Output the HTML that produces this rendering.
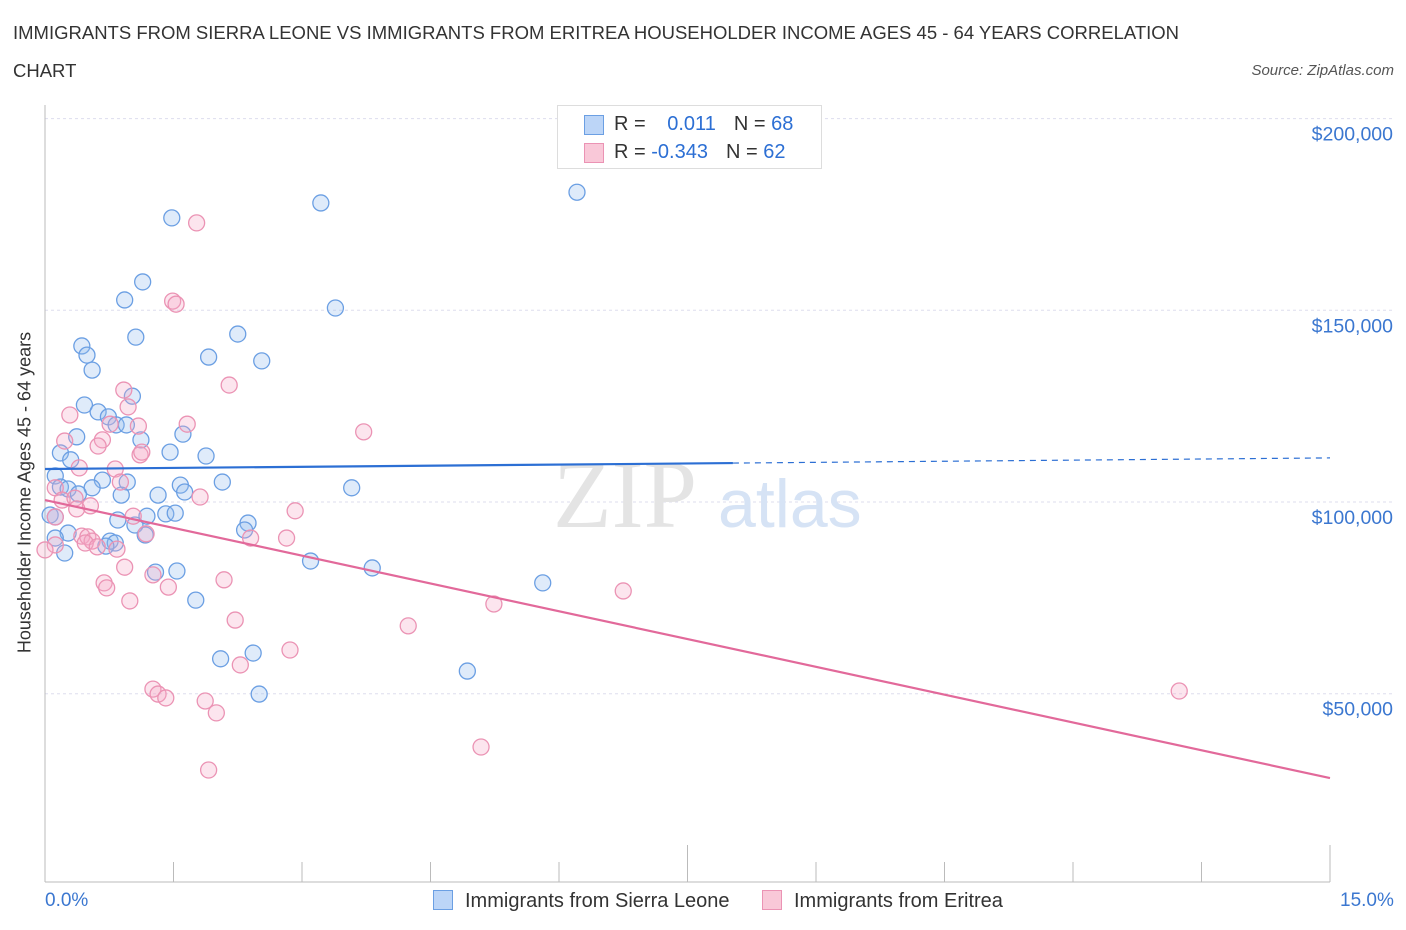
<!DOCTYPE html>
<html><head><meta charset="utf-8"><style>
body{margin:0;background:#fff;font-family:"Liberation Sans",sans-serif;}
#wrap{position:relative;width:1406px;height:930px;overflow:hidden}
.t{position:absolute;white-space:nowrap}
</style></head><body><div id="wrap">
<div class="t" style="left:13px;top:14px;font-size:18.5px;color:#333;line-height:38px;width:1220px;white-space:normal">IMMIGRANTS FROM SIERRA LEONE VS IMMIGRANTS FROM ERITREA HOUSEHOLDER INCOME AGES 45 - 64 YEARS CORRELATION CHART</div>
<div class="t" style="right:12px;top:62px;font-size:15px;color:#555;font-style:italic">Source: ZipAtlas.com</div>
<svg id="svg" width="1406" height="930" style="position:absolute;left:0;top:0"></svg>
</div>
<script>
const blueX=[6.21,3.22,1.48,1.14,0.93,3.39,2.25,1.06,0.43,0.49,1.91,2.53,0.55,1.02,0.46,0.62,0.74,0.83,0.95,1.61,0.37,1.12,0.18,1.46,1.88,0.30,0.12,2.07,0.67,0.96,1.58,0.18,0.27,0.55,3.58,1.63,0.39,0.89,1.32,0.06,0.12,1.19,1.41,1.52,0.85,2.37,1.05,2.33,0.27,1.17,0.12,0.76,0.82,0.71,0.23,3.10,3.82,1.54,1.29,5.81,1.76,2.43,2.05,4.93,2.50];
const blueY=[180.8,178.0,174.1,157.4,152.7,150.6,143.8,143.0,140.7,138.3,137.8,136.8,134.4,127.6,125.3,123.5,122.2,120.1,120.1,117.7,117.0,116.2,112.8,113.0,112.0,111.0,106.8,105.2,105.7,105.2,104.4,103.9,103.4,103.7,103.7,102.6,102.1,101.8,101.8,96.6,96.1,96.3,96.9,97.1,95.3,94.5,94.0,92.7,91.9,91.4,90.6,89.8,89.3,88.5,86.7,84.6,82.8,82.0,81.7,78.9,74.4,60.6,59.1,55.9,49.9];
const pinkX=[1.77,1.49,1.53,2.15,0.92,0.97,0.29,1.66,1.09,0.76,3.72,0.23,0.67,0.62,1.11,1.13,0.40,0.82,0.88,0.12,1.81,0.20,0.35,0.53,0.37,2.92,0.12,1.03,1.18,0.43,0.50,2.40,2.82,0.55,0.12,0.47,0.61,0.84,0.0,0.93,1.26,2.09,0.69,0.72,1.44,6.75,5.24,0.99,2.22,4.24,2.86,2.28,1.26,1.32,13.24,1.41,1.87,2.00,5.09,1.91];
const pinkY=[172.8,152.4,151.6,130.5,129.2,124.8,122.7,120.3,119.8,120.3,118.3,115.9,116.2,114.6,112.3,113.0,108.9,108.6,105.2,103.7,101.3,100.5,101.0,99.0,98.2,97.7,96.1,96.3,91.7,91.1,90.9,90.6,90.6,89.8,88.8,89.3,88.3,87.7,87.5,83.0,81.0,79.7,78.9,77.6,77.8,76.8,73.4,74.2,69.2,67.7,61.4,57.5,51.2,49.9,50.7,48.9,48.1,45.0,36.1,30.1];
const blueTrend=[108.6,111.5]; const blueSolidEnd=8.03;
const pinkTrend=[100.5,28.0];
const yTicks=[50,100,150,200];
const yTickLabels=["$50,000","$100,000","$150,000","$200,000"];
const X=v=>45+v/15*1285, Y=v=>502-(v-100)*191.7/50;
const s=document.getElementById('svg'),NS='http://www.w3.org/2000/svg';
function mk(tag,at){const e=document.createElementNS(NS,tag);for(const k in at)e.setAttribute(k,at[k]);s.appendChild(e);return e;}
yTicks.forEach((t,i)=>{
 const g=mk('line',{x1:45,x2:1395,y1:Y(t),y2:Y(t),stroke:'#dde',"stroke-dasharray":'3,3'});
 
 
 const l=mk('text',{x:1393,y:Y(t)+22,"text-anchor":'end',fill:'#3b77d0',"font-size":19.5});l.textContent=yTickLabels[i];
 
 
});
mk('line',{x1:45,x2:45,y1:105,y2:882,stroke:'#bbb'});
mk('line',{x1:45,x2:1330,y1:882,y2:882,stroke:'#bbb'});
for(let i=0;i<=10;i++){const x=45+i*128.5;const tk=mk('line',{x1:x,x2:x,y1:i%5==0?845:862,y2:882,stroke:'#bbb'});
 
 }
const wm=mk('text',{x:553,y:527,"font-size":96,fill:'#e4e4e4',"font-family":'Liberation Serif'});wm.textContent='ZIP';
const wm2=mk('text',{x:718,y:527,"font-size":68,fill:'#d6e3f5'});wm2.textContent='atlas';
function dot(x,y,st,fi,n){const c=mk('circle',{cx:X(x),cy:Y(y),r:8,fill:fi,stroke:st,"stroke-width":1.3});
 
 }
blueX.forEach((x,i)=>dot(x,blueY[i],'#6b9fe3','rgba(150,190,240,0.3)','sierra-leone-point'));
pinkX.forEach((x,i)=>dot(x,pinkY[i],'#eb93b4','rgba(245,170,200,0.3)','eritrea-point'));
const bv=x=>blueTrend[0]+(blueTrend[1]-blueTrend[0])*x/15;
const b1=mk('line',{x1:X(0),y1:Y(bv(0)),x2:X(blueSolidEnd),y2:Y(bv(blueSolidEnd)),stroke:'#2c6fd4',"stroke-width":2.2});


mk('line',{x1:X(blueSolidEnd),y1:Y(bv(blueSolidEnd)),x2:X(15),y2:Y(bv(15)),stroke:'#2c6fd4',"stroke-width":1.2,"stroke-dasharray":'6,5'});
const p1=mk('line',{x1:X(0),y1:Y(pinkTrend[0]),x2:X(15),y2:Y(pinkTrend[1]),stroke:'#e2699a',"stroke-width":2.2});


</script>
<div class="t" style="left:-145px;top:482px;width:340px;text-align:center;font-size:18px;color:#333;transform:rotate(-90deg)">Householder Income Ages 45 - 64 years</div>
<div class="t" style="left:45px;top:890px;font-size:19px;color:#3b77d0">0.0%</div>
<div class="t" style="left:1340px;top:890px;font-size:19px;color:#3b77d0">15.0%</div>
<div class="t" style="left:557px;top:105px;width:263px;height:62px;border:1px solid #ddd;background:#fff;font-size:20px;color:#333">
 <div style="position:absolute;left:26px;top:9px;width:18px;height:18px;background:#bcd5f7;border:1px solid #6b9fe3"></div>
 <div style="position:absolute;left:56px;top:7px">R = <span style="color:#2c6fd4;margin-left:16px">0.011</span><span style="margin-left:18px">N = </span><span style="color:#2c6fd4">68</span></div>
 <div style="position:absolute;left:26px;top:37px;width:18px;height:18px;background:#f9c8d8;border:1px solid #eb93b4"></div>
 <div style="position:absolute;left:56px;top:35px">R = <span style="color:#2c6fd4">-0.343</span><span style="margin-left:18px">N = </span><span style="color:#2c6fd4">62</span></div>
</div>
<div class="t" style="left:433px;top:890px;font-size:20px;color:#333"><span style="display:inline-block;width:18px;height:18px;background:#bcd5f7;border:1px solid #6b9fe3;vertical-align:-3px;margin-right:12px"></span>Immigrants from Sierra Leone</div>
<div class="t" style="left:762px;top:890px;font-size:20px;color:#333"><span style="display:inline-block;width:18px;height:18px;background:#f9c8d8;border:1px solid #eb93b4;vertical-align:-3px;margin-right:12px"></span>Immigrants from Eritrea</div>
</body></html>
